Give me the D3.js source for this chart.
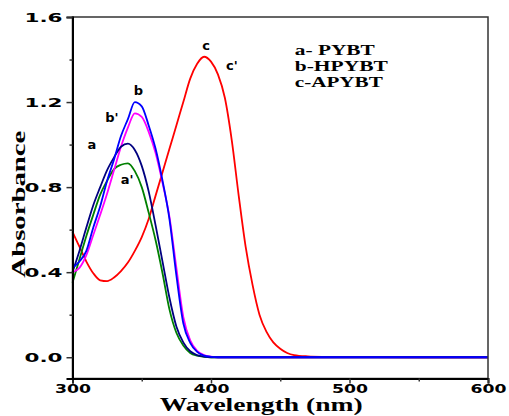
<!DOCTYPE html>
<html>
<head>
<meta charset="utf-8">
<script src="https://cdn.jsdelivr.net/npm/d3@7"></script>
<style>
  body { margin: 0; background: #fff; }
  svg { display: block; }
</style>
</head>
<body>
<svg id="chart" width="509" height="416"></svg>
<script>
// wavelength grid (nm) shared by all spectra
const wavelengths = [300,305,310,315,320,325,330,335,340,345,350,355,360,365,370,375,380,385,390,395,
  400,405,410,415,420,425,430,435,440,445,450,455,460,470,480,500,550,600];

const absC = [0.59,0.52,0.45,0.395,0.362,0.358,0.375,0.405,0.445,0.50,0.565,0.65,0.76,0.87,0.98,1.09,1.20,1.31,1.38,1.413,
  1.39,1.33,1.22,1.02,0.76,0.52,0.34,0.20,0.12,0.07,0.04,0.02,0.01,0.004,0.002,0.001,0,0];
const absB = [0.42,0.45,0.50,0.61,0.71,0.83,0.93,1.04,1.12,1.20,1.18,1.09,0.98,0.83,0.65,0.385,0.16,0.068,0.025,0.008,
  0.002,0,0,0,0,0,0,0,0,0,0,0,0,0,0,0,0,0];
const absB2 = [0.40,0.42,0.48,0.575,0.67,0.77,0.88,0.99,1.08,1.147,1.13,1.06,0.96,0.82,0.66,0.42,0.19,0.08,0.03,0.01,
  0.003,0,0,0,0,0,0,0,0,0,0,0,0,0,0,0,0,0];
const absA = [0.40,0.50,0.61,0.715,0.80,0.88,0.94,0.99,1.005,0.975,0.90,0.78,0.62,0.45,0.28,0.145,0.07,0.028,0.01,0.003,
  0,0,0,0,0,0,0,0,0,0,0,0,0,0,0,0,0,0];
const absA2 = [0.35,0.46,0.57,0.67,0.765,0.83,0.885,0.905,0.912,0.875,0.80,0.68,0.55,0.395,0.225,0.115,0.055,0.02,0.007,0.002,
  0,0,0,0,0,0,0,0,0,0,0,0,0,0,0,0,0,0];

const xTicks = [300, 400, 500, 600];
const xMinor = [350, 450, 550];
const yTicks = [0.0, 0.4, 0.8, 1.2, 1.6];
const yMinor = [0.2, 0.6, 1.0, 1.4];

const legendLines = ["a- PYBT", "b-HPYBT", "c-APYBT"];

const svg = d3.select("#chart");
const x = d3.scaleLinear().domain([300, 600]).range([72.5, 488]);
const y = d3.scaleLinear().domain([-0.1, 1.6]).range([378.5, 17]);

const series = [
  { name: "c", values: absC, color: "#ff0000" },
  { name: "a'", values: absA2, color: "#008000" },
  { name: "b'", values: absB2, color: "#ff00ff" },
  { name: "a", values: absA, color: "#000080" },
  { name: "b", values: absB, color: "#0000ff" }
];

const line = d3.line()
  .x(d => x(d[0]))
  .y(d => y(d[1]))
  .curve(d3.curveMonotoneX);

svg.append("g")
  .selectAll("path")
  .data(series)
  .join("path")
  .attr("d", s => line(wavelengths.map((w, i) => [w, s.values[i]])))
  .attr("fill", "none")
  .attr("stroke", s => s.color)
  .attr("stroke-width", 1.8);

// frame
svg.append("rect")
  .attr("x", x(300)).attr("y", y(1.6))
  .attr("width", x(600) - x(300)).attr("height", y(-0.1) - y(1.6))
  .attr("fill", "none").attr("stroke", "#333").attr("stroke-width", 1.5);

// axes
const xAxis = svg.append("g").attr("transform", `translate(0,${y(-0.1)})`)
  .call(d3.axisBottom(x).tickValues(xTicks).tickSize(5).tickPadding(1).tickFormat(d3.format("d")));
svg.append("g").attr("transform", `translate(0,${y(-0.1)})`)
  .call(d3.axisBottom(x).tickValues(xMinor).tickSize(3).tickFormat(""))
  .select(".domain").remove();

const yAxis = svg.append("g").attr("transform", `translate(${x(300)},0)`)
  .call(d3.axisLeft(y).tickValues(yTicks).tickSize(6).tickPadding(4).tickFormat(d3.format(".1f")));
svg.append("g").attr("transform", `translate(${x(300)},0)`)
  .call(d3.axisLeft(y).tickValues(yMinor).tickSize(3).tickFormat(""))
  .select(".domain").remove();

svg.selectAll(".domain").attr("stroke", "#000").attr("stroke-width", 2);
svg.selectAll(".tick line").attr("stroke", "#333").attr("stroke-width", 1.5);

xAxis.selectAll("text")
  .attr("font-family", "DejaVu Sans").attr("font-weight", "bold").attr("font-size", 12.5)
  .attr("fill", "#000")
  .attr("textLength", 36).attr("lengthAdjust", "spacingAndGlyphs");
yAxis.selectAll("text")
  .attr("font-family", "DejaVu Sans").attr("font-weight", "bold").attr("font-size", 13)
  .attr("fill", "#000")
  .attr("textLength", 38).attr("lengthAdjust", "spacingAndGlyphs");

// axis titles
svg.append("text")
  .attr("x", (x(300) + x(600)) / 2 - 19).attr("y", 411)
  .attr("text-anchor", "middle")
  .attr("font-family", "Liberation Serif").attr("font-weight", "bold").attr("font-size", 18)
  .attr("textLength", 203).attr("lengthAdjust", "spacingAndGlyphs")
  .text("Wavelength (nm)");

svg.append("text")
  .attr("transform", `translate(25,${y(0.72)}) rotate(-90)`)
  .attr("text-anchor", "middle")
  .attr("font-family", "Liberation Serif").attr("font-weight", "bold").attr("font-size", 18)
  .attr("textLength", 147).attr("lengthAdjust", "spacingAndGlyphs")
  .text("Absorbance");

// curve labels
const labelText = ["a", "b", "b'", "a'", "c", "c'"];
const labelX = [314, 347.5, 328.5, 339.5, 396.5, 415];
const labelY = [1.0, 1.255, 1.127, 0.835, 1.467, 1.373];

svg.append("g")
  .selectAll("text")
  .data(labelText)
  .join("text")
  .attr("x", (d, i) => x(labelX[i]))
  .attr("y", (d, i) => y(labelY[i]))
  .attr("dy", "0.35em")
  .attr("text-anchor", "middle")
  .attr("font-family", "DejaVu Sans").attr("font-weight", "bold").attr("font-size", 13)
  .text(d => d);

// legend
const legendLen = [80, 93, 88];
svg.append("g")
  .selectAll("text")
  .data(legendLines)
  .join("text")
  .attr("x", x(460.5))
  .attr("y", (d, i) => y(1.42 - i * 0.075))
  .attr("font-family", "Liberation Serif").attr("font-weight", "bold").attr("font-size", 15)
  .attr("textLength", (d, i) => legendLen[i]).attr("lengthAdjust", "spacingAndGlyphs")
  .text(d => d);
</script>
</body>
</html>
